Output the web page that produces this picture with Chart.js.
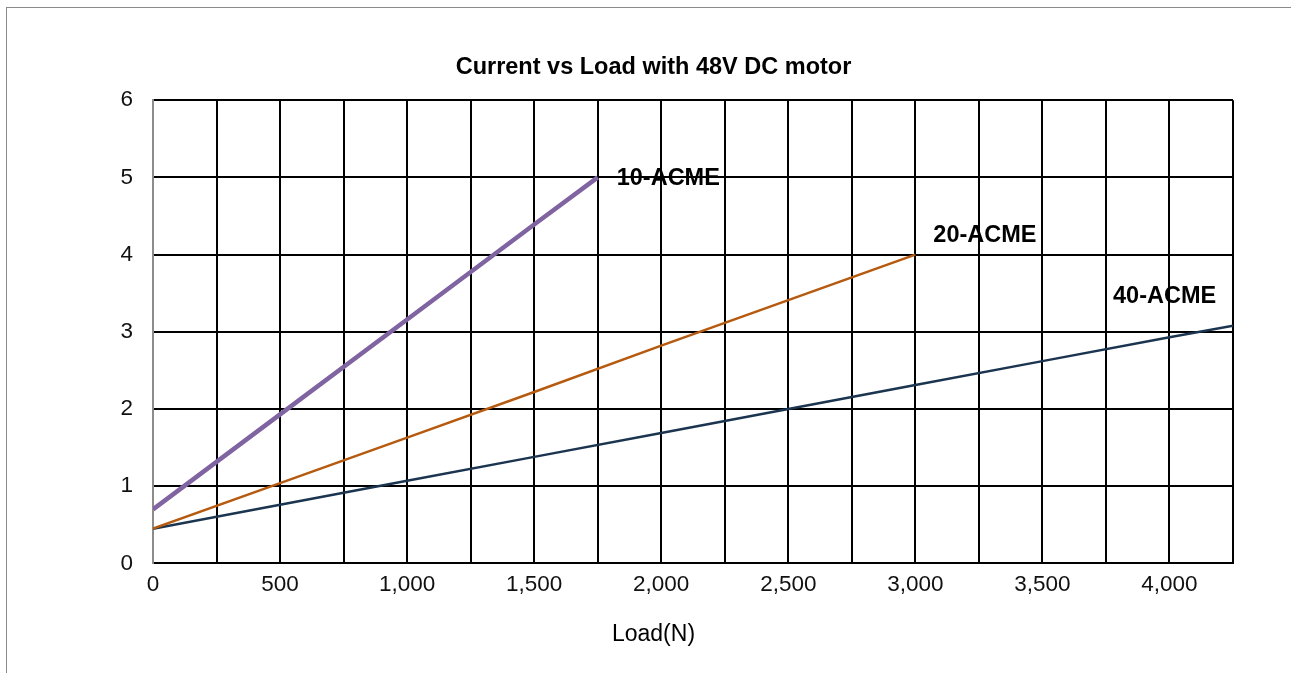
<!DOCTYPE html>
<html>
<head>
<meta charset="utf-8">
<script src="https://cdn.jsdelivr.net/npm/chart.js@4.4.1/dist/chart.umd.min.js"></script>
<style>
  html, body { margin: 0; padding: 0; background: #fff; overflow: hidden; }
  #wrap { position: relative; width: 1291px; height: 673px; overflow: hidden; }
  #frame { position: absolute; left: 6px; top: 7px; width: 1400px; height: 800px; border: 1px solid #8a8a8a; box-sizing: border-box; }
  #c { position: absolute; left: 0; top: 0; }
</style>
</head>
<body>
<div id="wrap">
  <div id="frame"></div>
  <canvas id="c" width="1291" height="673"></canvas>
</div>
<script>
// ---- data ----
const seriesNames = ['10-ACME', '20-ACME', '40-ACME'];
const loads10 = [0, 500, 1000, 1500, 1750];
const current10 = [0.70, 1.93, 3.16, 4.39, 5.00];
const loads20 = [0, 500, 1000, 1500, 2000, 2500, 3000];
const current20 = [0.45, 1.04, 1.63, 2.22, 2.82, 3.41, 4.00];
const loads40 = [0, 500, 1000, 1500, 2000, 2500, 3000, 3500, 4000, 4250];
const current40 = [0.45, 0.76, 1.07, 1.38, 1.69, 2.00, 2.31, 2.62, 2.93, 3.08];
const yTicks = [0, 1, 2, 3, 4, 5, 6];
const xMax = 4250;

const toPts = (xs, ys) => xs.map((x, i) => ({ x: x, y: ys[i] }));

// label placement relative to each series' last point (pixels)
const labelOffsets = [
  { dx: 19, dy: 1 },
  { dx: 18, dy: -19 },
  { dx: -120, dy: -29 }
];

const FONT = "'Liberation Sans', Arial, sans-serif";

const endLabels = {
  id: 'endLabels',
  afterDatasetsDraw(chart) {
    const ctx = chart.ctx;
    ctx.save();
    ctx.font = 'bold 23.5px ' + FONT;
    ctx.fillStyle = '#000';
    ctx.textBaseline = 'middle';
    ctx.textAlign = 'left';
    chart.data.datasets.forEach((ds, i) => {
      const meta = chart.getDatasetMeta(i);
      const last = meta.data[meta.data.length - 1];
      const off = labelOffsets[i];
      ctx.fillText(seriesNames[i], last.x + off.dx, last.y + off.dy);
    });
    ctx.restore();
  }
};

new Chart(document.getElementById('c'), {
  type: 'line',
  data: {
    datasets: [
      { label: seriesNames[0], data: toPts(loads10, current10), borderColor: '#8064A2', borderWidth: 4.5, pointRadius: 0, tension: 0 },
      { label: seriesNames[1], data: toPts(loads20, current20), borderColor: '#B65A0F', borderWidth: 2.5, pointRadius: 0, tension: 0 },
      { label: seriesNames[2], data: toPts(loads40, current40), borderColor: '#1B3550', borderWidth: 2.5, pointRadius: 0, tension: 0 }
    ]
  },
  options: {
    responsive: false,
    animation: false,
    devicePixelRatio: 1,
    layout: { padding: { left: 16, right: 0, top: 0, bottom: 0 } },
    plugins: {
      legend: { display: false },
      tooltip: { enabled: false },
      title: {
        display: true,
        text: 'Current vs Load with 48V DC motor',
        color: '#000',
        font: { family: FONT, size: 23.5, weight: 'bold', lineHeight: 1.2 },
        padding: { top: 53, bottom: 19 }
      },
      subtitle: {
        display: true,
        position: 'bottom',
        text: 'Load(N)',
        color: '#000',
        font: { family: FONT, size: 23, weight: 'normal', lineHeight: 1.2 },
        padding: { top: 7, bottom: 25 }
      }
    },
    scales: {
      x: {
        type: 'linear',
        min: 0,
        max: xMax,
        afterFit(scale) { scale.height = 50; },
        afterBuildTicks(scale) {
          const t = [];
          for (let v = 0; v <= xMax; v += 250) t.push({ value: v });
          scale.ticks = t;
        },
        ticks: {
          autoSkip: false,
          maxRotation: 0,
          padding: 8,
          color: '#111',
          font: { family: FONT, size: 22.5 },
          callback: (v) => (v % 500 === 0 ? v.toLocaleString('en-US') : '')
        },
        grid: { color: '#000', lineWidth: 2, drawTicks: false },
        border: { color: '#000', width: 2 }
      },
      y: {
        min: 0,
        max: 6,
        afterFit(scale) { scale.width = 137; },
        afterBuildTicks(scale) { scale.ticks = yTicks.map(v => ({ value: v })); },
        ticks: {
          padding: 20,
          color: '#111',
          font: { family: FONT, size: 22.5 }
        },
        grid: { color: '#000', lineWidth: 2, drawTicks: false },
        border: { color: '#8c8c8c', width: 2 }
      },
      yRight: {
        position: 'right',
        min: 0,
        max: 6,
        afterFit(scale) { scale.width = 58; },
        ticks: { display: false },
        grid: { display: false, drawTicks: false },
        border: { display: false }
      }
    }
  },
  plugins: [endLabels]
});
</script>
</body>
</html>
